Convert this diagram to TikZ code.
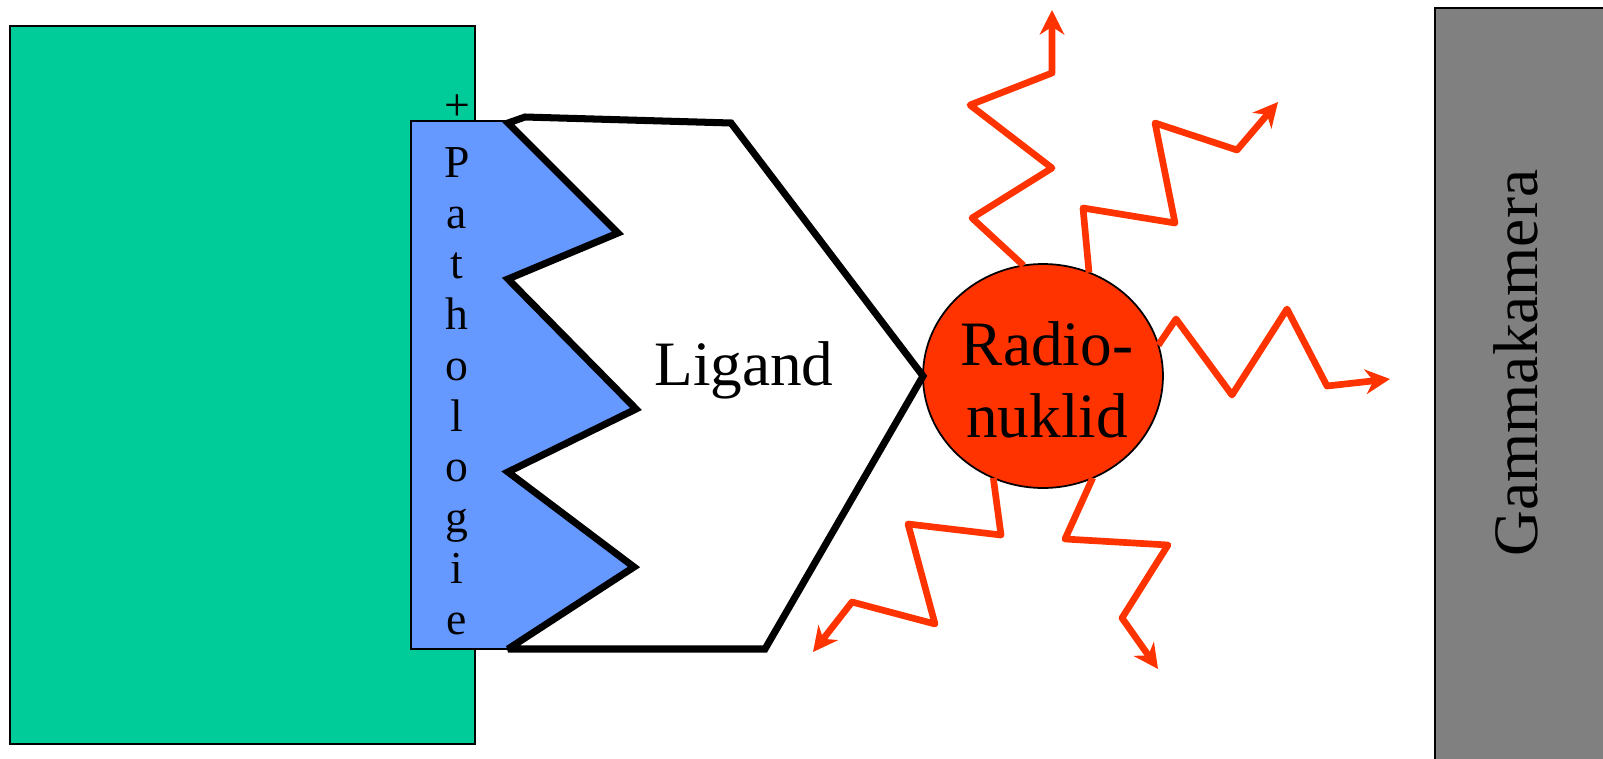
\documentclass[tikz,border=0pt]{standalone}
\usepackage{fontspec}
\setmainfont{Liberation Serif}
\usetikzlibrary{arrows.meta,shapes.geometric}
\definecolor{tissue}{HTML}{00CC99}
\definecolor{patho}{HTML}{6699FF}
\definecolor{nuclid}{HTML}{FF3300}
\definecolor{camgray}{HTML}{808080}

\begin{document}
\begin{tikzpicture}[x=0.02cm,y=-0.02cm,
	outline/.style={draw=black,line width=1pt},
	ligand line/.style={draw=black,line width=4pt,line join=miter,miter limit=2},
	ray/.style={draw=nuclid,line width=3.8pt,line join=round,-{Stealth[length=14pt,width=14pt,inset=4.5pt]}},
	big text/.style={font=\fontsize{36}{41}\selectfont},
	small text/.style={font=\fontsize{26}{28.9}\selectfont,inner sep=0pt}]
	\useasboundingbox (0,0) rectangle (1603,758);
	% tissue and pathology
	\draw[outline,fill=tissue] (10,26) rectangle (475,744);
	\draw[outline,fill=patho] (411,121) -- (508,121) -- (618,233) -- (508,279) -- (636,409) -- (508,472) -- (634,567) -- (508,649) -- (411,649) -- cycle;
	\node[small text] (plus) at (457,108) {+};
	\node[small text,align=center,anchor=north] (pathology) at (457,147) {P\\a\\t\\h\\o\\l\\o\\g\\i\\e};
	% gamma camera
	\draw[outline,fill=camgray] (1435,8) rectangle (1610,765);
	\node[big text,rotate=90,anchor=base] (camera) at (1537,363) {Gammakamera};
	% radionuclide
	\node[ellipse,outline,fill=nuclid,minimum width=4.8cm,minimum height=4.48cm,outer sep=0pt] (radio) at (1043,376) {};
	\node[big text,align=center] (radiolabel) at (1047,380) {Radio-\\nuklid};
	% ligand
	\draw[ligand line] (508,123) -- (525,117) -- (731,123) -- (radio.west) -- (765,649) -- (508,649) -- (634,567) -- (508,472) -- (636,409) -- (508,279) -- (618,233) -- cycle;
	\node[big text,anchor=base] (ligand) at (744,385) {Ligand};
	% gamma rays
	\draw[ray] (radio.100) -- (972,218) -- (1052,168) -- (970,105) -- (1052,73) -- (1052,10);
	\draw[ray] (radio.66) -- (1083,208) -- (1175,223) -- (1155,123) -- (1237,150) -- (1278,102);
	\draw[ray] (radio.15) -- (1176,319) -- (1232,395) -- (1287,309) -- (1327,386) -- (1390,379);
	\draw[ray] (radio.244) -- (1001,535) -- (908,524) -- (935,624) -- (852,602) -- (813,652);
	\draw[ray] (radio.296) -- (1065,539) -- (1168,545) -- (1122,618) -- (1158,669);
\end{tikzpicture}
\end{document}
